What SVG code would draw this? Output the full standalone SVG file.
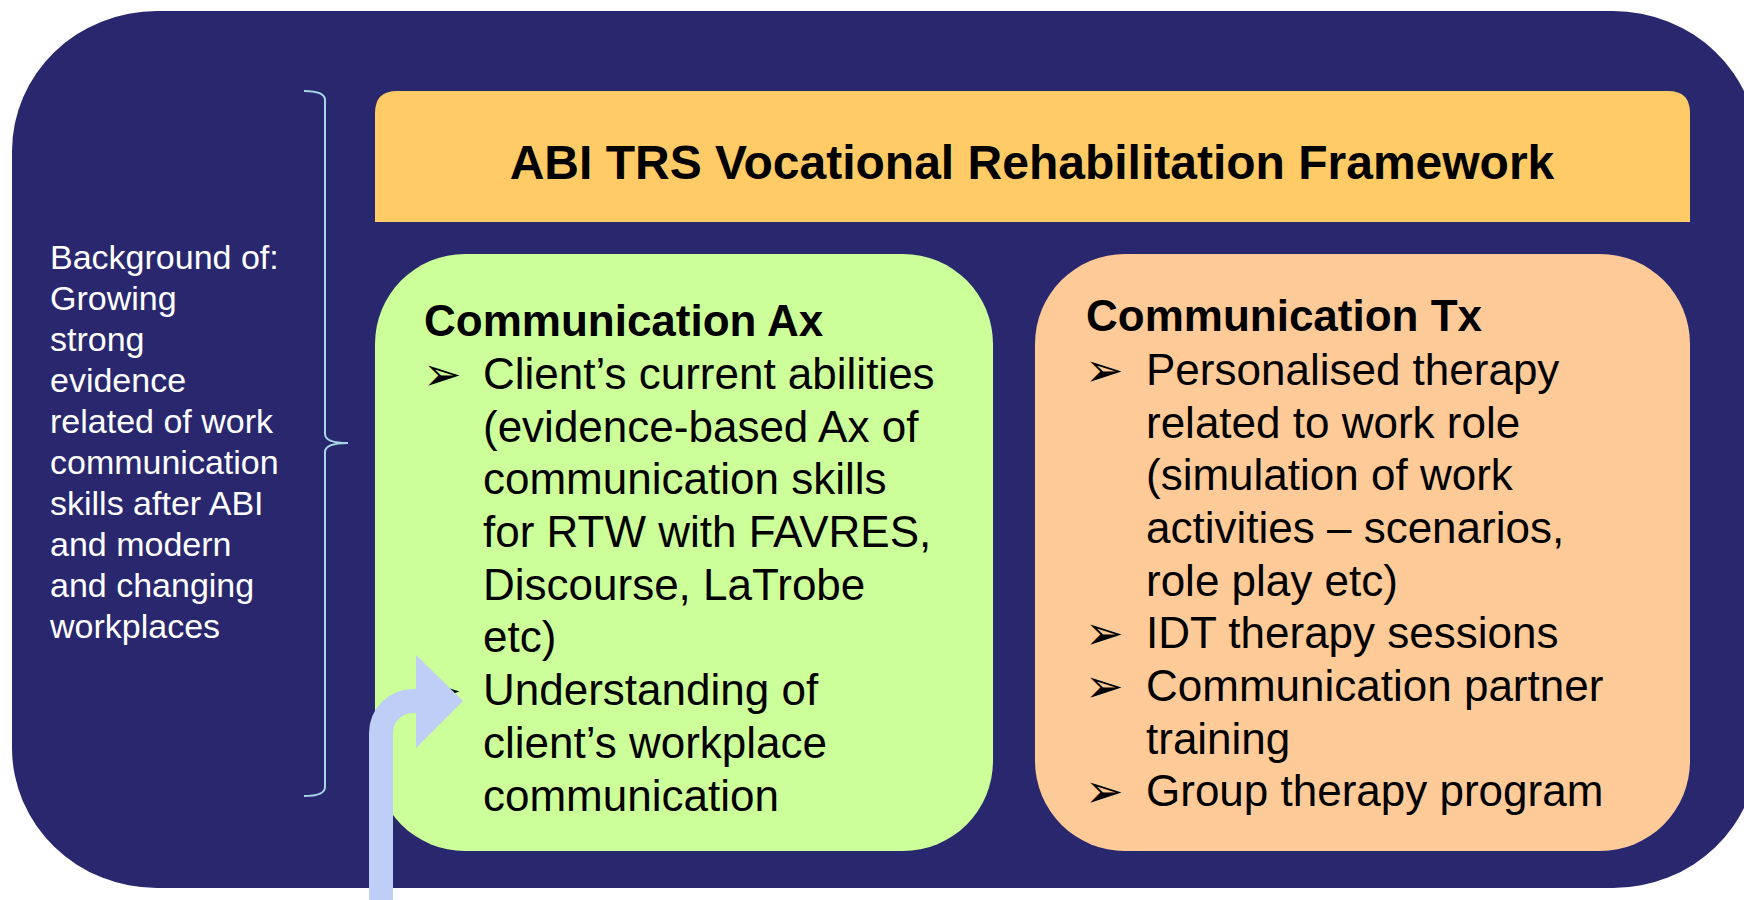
<svg xmlns="http://www.w3.org/2000/svg" width="1744" height="900" viewBox="0 0 1744 900">
  <style>
    .bg { fill: #29286f; }
    .side { font-family: "Liberation Sans", Arial, sans-serif; font-size: 34px; fill: #ffffff; }
    .title { font-family: "Liberation Sans", Arial, sans-serif; font-size: 48px; font-weight: bold; fill: #000000; }
    .head { font-family: "Liberation Sans", Arial, sans-serif; font-size: 44px; font-weight: bold; fill: #000000; }
    .body { font-family: "Liberation Sans", Arial, sans-serif; font-size: 44px; fill: #000000; }
    .bullet { font-family: "DejaVu Sans", sans-serif; font-size: 46px; fill: #000000; }
    .brace { fill: none; stroke: #a6d6e4; stroke-width: 2; }
  </style>

  <!-- outer panel -->
  <rect id="panel" class="bg" x="12" y="11" width="1746" height="877" rx="145" ry="140"/>

  <!-- background note with brace -->
  <g id="background-note">
    <text class="side" x="50" y="269">
      <tspan x="50" y="269">Background of:</tspan>
      <tspan x="50" y="310">Growing</tspan>
      <tspan x="50" y="351">strong</tspan>
      <tspan x="50" y="392">evidence</tspan>
      <tspan x="50" y="433">related of work</tspan>
      <tspan x="50" y="474">communication</tspan>
      <tspan x="50" y="515">skills after ABI</tspan>
      <tspan x="50" y="556">and modern</tspan>
      <tspan x="50" y="597">and changing</tspan>
      <tspan x="50" y="638">workplaces</tspan>
    </text>
    <path class="brace" d="M304 91 Q325 91 325 100 V434 Q325 443 348 443 Q325 443 325 452 V787 Q325 796 304 796"/>
  </g>

  <!-- framework title bar -->
  <g id="title">
    <path d="M397 91 H1668 Q1690 91 1690 113 V222 H375 V113 Q375 91 397 91 Z" fill="#fecb66"/>
    <text class="title" x="1032" y="179" text-anchor="middle">ABI TRS Vocational Rehabilitation Framework</text>
  </g>

  <!-- assessment box -->
  <g id="assessment">
    <rect x="375" y="254" width="618" height="597" rx="90" ry="90" fill="#ccff99"/>
    <text class="head" x="424" y="336">Communication Ax</text>
    <text class="bullet" x="423" y="390">➢</text>
    <text class="bullet" x="423" y="706">➢</text>
    <text class="body">
      <tspan x="483" y="389">Client’s current abilities</tspan>
      <tspan x="483" y="442">(evidence-based Ax of</tspan>
      <tspan x="483" y="494">communication skills</tspan>
      <tspan x="483" y="547">for RTW with FAVRES,</tspan>
      <tspan x="483" y="600">Discourse, LaTrobe</tspan>
      <tspan x="483" y="652">etc)</tspan>
      <tspan x="483" y="705">Understanding of</tspan>
      <tspan x="483" y="758">client’s workplace</tspan>
      <tspan x="483" y="811">communication</tspan>
    </text>
  </g>

  <!-- treatment box -->
  <g id="treatment">
    <rect x="1035" y="254" width="655" height="597" rx="90" ry="90" fill="#fecb98"/>
    <text class="head" x="1086" y="331">Communication Tx</text>
    <text class="bullet" x="1085" y="386">➢</text>
    <text class="bullet" x="1085" y="649">➢</text>
    <text class="bullet" x="1085" y="702">➢</text>
    <text class="bullet" x="1085" y="807">➢</text>
    <text class="body">
      <tspan x="1146" y="385">Personalised therapy</tspan>
      <tspan x="1146" y="438">related to work role</tspan>
      <tspan x="1146" y="490">(simulation of work</tspan>
      <tspan x="1146" y="543">activities – scenarios,</tspan>
      <tspan x="1146" y="596">role play etc)</tspan>
      <tspan x="1146" y="648">IDT therapy sessions</tspan>
      <tspan x="1146" y="701">Communication partner</tspan>
      <tspan x="1146" y="754">training</tspan>
      <tspan x="1146" y="806">Group therapy program</tspan>
    </text>
  </g>

  <!-- bent arrow entering the assessment box -->
  <g id="connectors">
    <path d="M381 900 V733 A32 32 0 0 1 413 701 H420" fill="none" stroke="#bfcef6" stroke-width="24"/>
    <polygon points="416,655 463,701 416,748" fill="#bfcef6"/>
  </g>
</svg>
